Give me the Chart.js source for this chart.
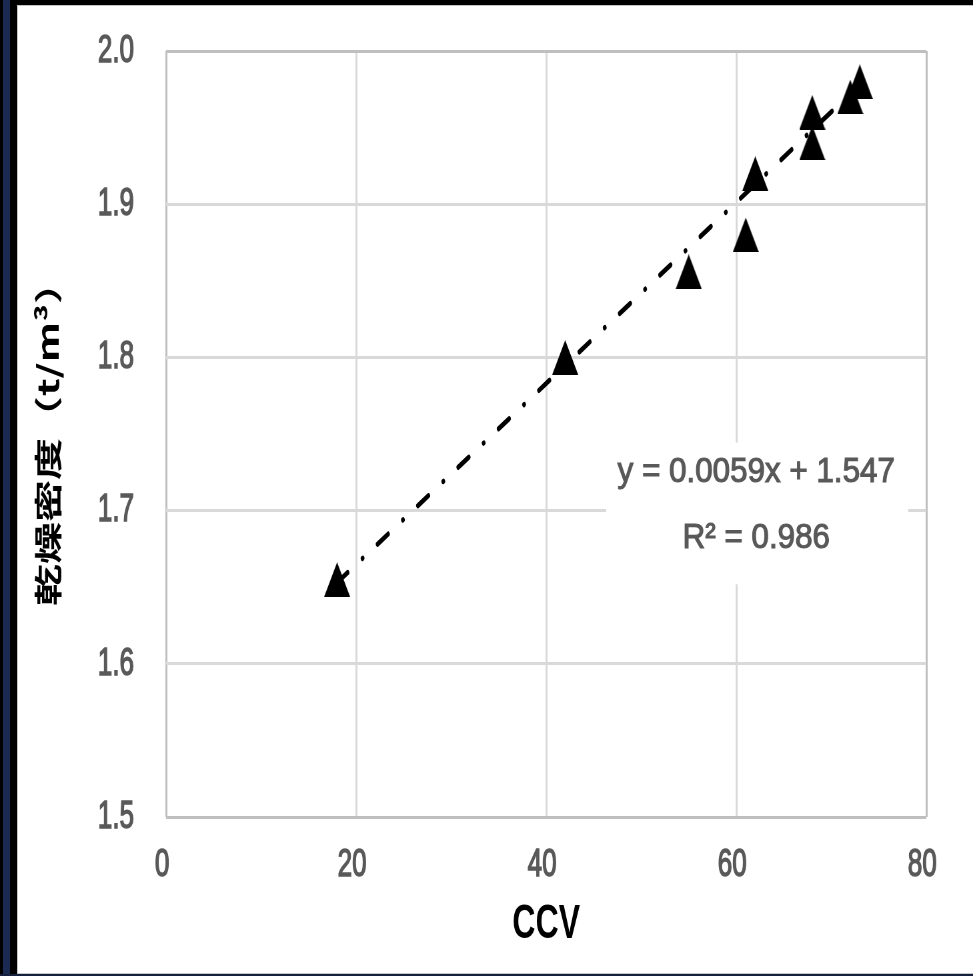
<!DOCTYPE html>
<html><head><meta charset="utf-8">
<script src="https://cdn.jsdelivr.net/npm/chart.js@4"></script>
<style>
html,body{margin:0;padding:0;background:#000;width:973px;height:976px;overflow:hidden;}
#stripe{position:absolute;left:3px;top:0;width:7px;height:976px;background:#1b2a52;}
#bottomstrip{position:absolute;left:0;top:974px;width:973px;height:2px;background:#16213f;}
#panel{position:absolute;left:17px;top:5px;width:956px;height:967px;background:#fff;border-left:1px solid #c4c4c4;border-top:1px solid #c4c4c4;border-bottom:1px solid #c4c4c4;}
#c{position:absolute;left:0;top:0;}
</style></head><body>
<div id="stripe"></div><div id="bottomstrip"></div><div id="panel"></div>
<canvas id="c" width="973" height="651" style="width:973px;height:976px;"></canvas>
<script>
// data
const ccv = [18, 42, 55, 61, 62, 68, 68, 72, 73];
const density = [1.655, 1.800, 1.856, 1.880, 1.920, 1.940, 1.960, 1.970, 1.980];
const trendX = [18, 73];
const trendY = [1.653, 1.978];
const xTickLabels = ['0', '20', '40', '60', '80'];
const yTickLabels = ['1.5', '1.6', '1.7', '1.8', '1.9', '2.0'];
const xTitle = 'CCV';
const yTitle = '乾燥密度（t/m³）';
const eqLines = ['y = 0.0059x + 1.547', 'R² = 0.986'];

const latin = '"Liberation Sans", Arial, sans-serif';
const gridColor = c => (c.index === 0 || c.index === c.scale.ticks.length - 1) ? '#bfbfbf' : '#d9d9d9';

const eqPlugin = {
  id: 'eqbox',
  beforeDatasetsDraw(chart) {
    const ctx = chart.ctx;
    ctx.save();
    ctx.fillStyle = '#ffffff';
    ctx.fillRect(606, 295, 302, 94.5);
    ctx.fillStyle = '#595959';
    ctx.strokeStyle = '#595959';
    ctx.lineWidth = 1;
    ctx.font = '32px ' + latin;
    ctx.textAlign = 'center';
    ctx.textBaseline = 'middle';
    const ys = [315, 359];
    eqLines.forEach((t, i) => {
      ctx.save();
      ctx.translate(756, ys[i]);
      ctx.scale(0.98, 0.72);
      ctx.fillText(t, 0, 0);
      ctx.strokeText(t, 0, 0);
      ctx.restore();
    });
    ctx.restore();
  }
};

function makeTriangle() {
  const s = 3, w = 26, h = 23;
  const c = document.createElement('canvas');
  c.width = w * s; c.height = h * s;
  const g = c.getContext('2d');
  g.fillStyle = '#000';
  g.beginPath();
  g.moveTo(w * s / 2, 0);
  g.lineTo(w * s, h * s);
  g.lineTo(0, h * s);
  g.closePath();
  g.fill();
  const img = new Image();
  img.width = w; img.height = h;
  return new Promise(r => { img.onload = () => r(img); img.src = c.toDataURL(); });
}

const fixPad = s => { s.paddingTop = 0; s.paddingBottom = 0; s.paddingLeft = 0; s.paddingRight = 0; };

makeTriangle().then(tri => {
  new Chart(document.getElementById('c'), {
    type: 'scatter',
    data: {
      datasets: [
        {
          data: ccv.map((x, i) => ({x: x, y: density[i]})),
          pointStyle: tri,
          pointRadius: 13,
          backgroundColor: '#000',
          borderWidth: 0,
          order: 0
        },
        {
          data: trendX.map((x, i) => ({x: x, y: trendY[i]})),
          showLine: true,
          pointRadius: 0,
          borderColor: '#000',
          borderWidth: 3.5,
          borderDash: [12.5, 17.5, 0.3, 17.5],
          borderCapStyle: 'round',
          fill: false,
          order: 1
        }
      ]
    },
    options: {
      responsive: false,
      animation: false,
      devicePixelRatio: 1.5,
      events: [],
      layout: {padding: {left: 10, top: 34, right: 47, bottom: 0}},
      plugins: {legend: {display: false}, tooltip: {enabled: false}},
      scales: {
        x: {
          type: 'linear', min: 0, max: 80,
          ticks: {stepSize: 20, padding: 16.4, labelOffset: -4, color: '#595959',
                  textStrokeColor: '#595959', textStrokeWidth: 1,
                  font: {family: latin, size: 26}, callback: (v, i) => xTickLabels[i]},
          grid: {color: gridColor, lineWidth: 2, drawTicks: false},
          border: {display: false},
          title: {display: true, text: xTitle, color: '#000',
                  font: {family: latin, size: 32, weight: 'bold'}, padding: {top: 0, bottom: 15}},
          afterFit: s => { fixPad(s); s.height = 651 - 544.67; }
        },
        y: {
          type: 'linear', min: 1.5, max: 2.0,
          ticks: {stepSize: 0.1, padding: 32, color: '#595959',
                  textStrokeColor: '#595959', textStrokeWidth: 1,
                  font: {family: latin, size: 26}, callback: (v, i) => yTickLabels[i]},
          grid: {color: gridColor, lineWidth: 2, drawTicks: false},
          border: {display: false},
          title: {display: true, text: yTitle, color: '#000',
                  font: {family: '"Noto Sans CJK JP", sans-serif', size: 28, weight: 'bold'},
                  padding: {top: 21, bottom: 0}},
          afterFit: s => { fixPad(s); s.width = 156; }
        }
      }
    },
    plugins: [eqPlugin]
  });
});
</script>
</body></html>
